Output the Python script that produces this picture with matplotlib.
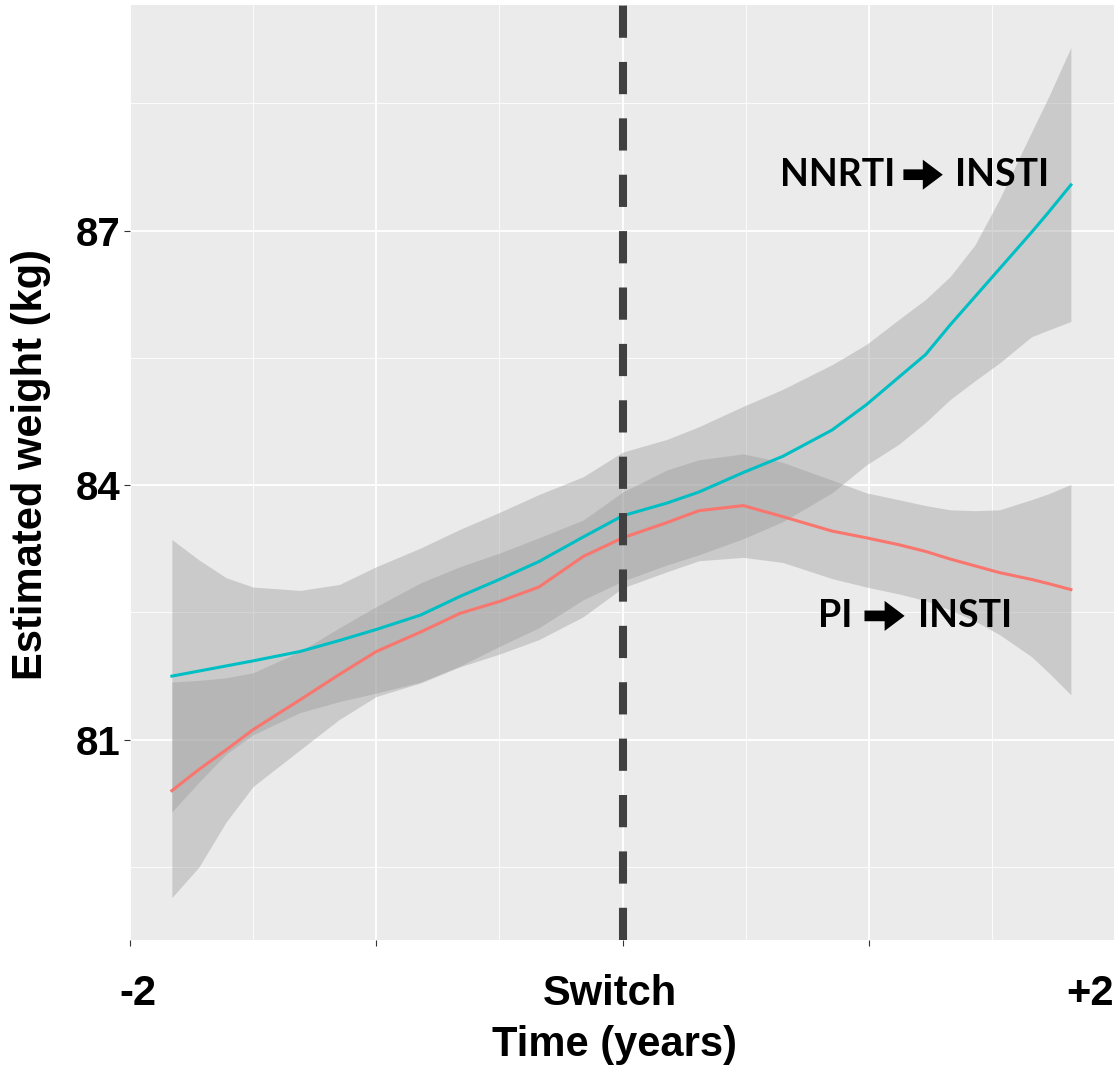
import matplotlib.pyplot as plt

# time relative to switch (years)
x = [-1.83, -1.72, -1.61, -1.50, -1.31, -1.15, -1.00, -0.82, -0.66, -0.50, -0.34, -0.16, 0.00,
     0.18, 0.31, 0.49, 0.65, 0.85, 0.99, 1.12, 1.23, 1.33, 1.43, 1.53, 1.66, 1.73, 1.82]

# NNRTI -> INSTI
nnrti_fit = [81.75, 81.81, 81.87, 81.93, 82.04, 82.17, 82.30, 82.47, 82.69, 82.89, 83.10, 83.39, 83.64,
             83.79, 83.92, 84.15, 84.34, 84.65, 84.95, 85.27, 85.54, 85.89, 86.22, 86.55, 86.98, 87.22, 87.54]
nnrti_hi = [83.36, 83.12, 82.91, 82.80, 82.76, 82.83, 83.04, 83.26, 83.48, 83.68, 83.89, 84.10, 84.39,
            84.54, 84.69, 84.93, 85.13, 85.42, 85.66, 85.95, 86.19, 86.46, 86.83, 87.37, 88.16, 88.58, 89.16]
nnrti_lo = [80.15, 80.50, 80.83, 81.06, 81.32, 81.45, 81.55, 81.68, 81.87, 82.10, 82.32, 82.65, 82.87,
            83.06, 83.18, 83.37, 83.57, 83.91, 84.24, 84.48, 84.74, 85.01, 85.23, 85.44, 85.75, 85.83, 85.93]

# PI -> INSTI
pi_fit = [80.40, 80.65, 80.88, 81.12, 81.47, 81.77, 82.04, 82.27, 82.49, 82.63, 82.80, 83.16, 83.38,
          83.56, 83.70, 83.76, 83.63, 83.46, 83.38, 83.30, 83.22, 83.13, 83.05, 82.97, 82.89, 82.84, 82.77]
pi_hi = [81.68, 81.70, 81.73, 81.79, 82.04, 82.32, 82.57, 82.85, 83.04, 83.20, 83.38, 83.59, 83.92,
         84.18, 84.30, 84.37, 84.27, 84.06, 83.91, 83.83, 83.76, 83.71, 83.70, 83.71, 83.83, 83.90, 84.01]
pi_lo = [79.14, 79.50, 80.03, 80.45, 80.88, 81.24, 81.51, 81.67, 81.86, 82.01, 82.18, 82.45, 82.79,
         82.98, 83.11, 83.15, 83.09, 82.90, 82.80, 82.72, 82.64, 82.53, 82.40, 82.24, 81.98, 81.79, 81.53]

y_ticks = [81, 84, 87]
x_labels = ['-2', 'Switch', '+2']

fig = plt.figure(figsize=(11.14, 10.67), dpi=100)
ax = fig.add_axes([130 / 1114, 1 - 940 / 1067, 984 / 1114, 935 / 1067])
ax.set_facecolor('#EBEBEB')
ax.set_xlim(-2.0, 1.995)
ax.set_ylim(78.64, 89.66)

ax.set_xticks([-2, -1, 0, 1])
ax.set_xticks([-1.5, -0.5, 0.5, 1.5], minor=True)
ax.set_yticks(y_ticks)
ax.set_yticks([79.5, 82.5, 85.5, 88.5], minor=True)
ax.grid(which='major', color='white', lw=1.3)
ax.grid(which='minor', color='white', lw=0.6)
ax.set_axisbelow(True)
for s in ax.spines.values():
    s.set_visible(False)
ax.tick_params(which='major', length=4, width=0.8, color='#333333')
ax.tick_params(which='minor', length=0)
ax.set_xticklabels([])
ax.set_yticklabels([str(v) for v in y_ticks], fontsize=29, fontweight='bold',
                   family='Liberation Sans')
ax.tick_params(axis='y', pad=3)

ax.fill_between(x, pi_lo, pi_hi, color='#999999', alpha=0.4, lw=0)
ax.fill_between(x, nnrti_lo, nnrti_hi, color='#999999', alpha=0.4, lw=0)
ax.plot(x, pi_fit, color='#F8766D', lw=2.2)
ax.plot(x, nnrti_fit, color='#00BFC4', lw=2.2)

ax.axvline(0, color='#404040', lw=5.8, dashes=(4, 3), dash_capstyle='butt')


def switch_label(x0, x_arrow0, x_arrow1, x1, yc, left, right):
    kw = dict(fontsize=27, fontweight='bold', family='Lato', va='center')
    ax.text(x0, yc, left, ha='left', **kw)
    ax.text(x1, yc, right, ha='left', **kw)
    ax.annotate('', xy=(x_arrow1, yc), xytext=(x_arrow0, yc),
                arrowprops=dict(arrowstyle='simple,head_length=0.6,head_width=0.9,tail_width=0.32',
                                mutation_scale=24, color='black', shrinkA=0, shrinkB=0, lw=0))


switch_label(0.64, 1.14, 1.30, 1.35, 87.66, 'NNRTI', 'INSTI')
switch_label(0.795, 0.982, 1.145, 1.20, 82.46, 'PI', 'INSTI')

lab = dict(fontsize=30, fontweight='bold', family='Liberation Sans', ha='center', va='center')
fig.text(138 / 1114, 1 - 994 / 1067, x_labels[0], **lab)
fig.text(610 / 1114, 1 - 994 / 1067, x_labels[1], **lab)
fig.text(1090 / 1114, 1 - 994 / 1067, x_labels[2], **lab)
fig.text(615 / 1114, 1 - 1045 / 1067, 'Time (years)', **lab)
fig.text(31 / 1114, 1 - 464 / 1067, 'Estimated weight (kg)', rotation=90, **lab)

fig.savefig('out.png', dpi=100)
